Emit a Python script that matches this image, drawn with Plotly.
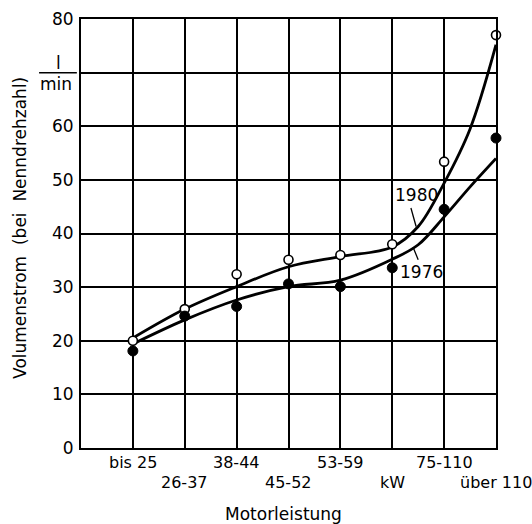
import plotly.graph_objects as go

# --- data ---
categories = ["bis 25", "26-37", "38-44", "45-52", "53-59", "kW", "75-110", "über 110"]
cat_pos = [1, 2, 3, 4, 5, 6, 7, 8]
label_row = [0, 1, 0, 1, 0, 1, 0, 1]   # staggered tick label rows

points_1980 = [20.0, 25.9, 32.4, 35.1, 36.0, 38.0, 53.4, 77.0]
points_1976 = [18.1, 24.6, 26.4, 30.6, 30.1, 33.6, 44.5, 57.8]

# hand-drawn trend curves
trend_x = [1, 2, 3, 4, 5, 6, 6.5, 7, 7.5, 8]
trend_1980 = [20.5, 25.9, 30.1, 33.8, 35.7, 37.5, 41.3, 49.4, 59.5, 75.2]
trend_1976 = [19.4, 23.9, 27.6, 30.1, 31.3, 35.2, 37.9, 43.1, 48.7, 54.0]

y_ticks = [0, 10, 20, 30, 40, 50, 60, 70, 80]
y_ticktext = ["0", "10", "20", "30", "40", "50", "60", "", "80"]

FONT = "DejaVu Sans"
fig = go.Figure()

fig.add_trace(go.Scatter(x=trend_x, y=trend_1980, mode="lines",
                         line=dict(color="black", width=2.8, shape="spline", smoothing=1.0),
                         showlegend=False, hoverinfo="skip"))
fig.add_trace(go.Scatter(x=trend_x, y=trend_1976, mode="lines",
                         line=dict(color="black", width=2.8, shape="spline", smoothing=1.0),
                         showlegend=False, hoverinfo="skip"))
fig.add_trace(go.Scatter(x=cat_pos, y=points_1980, mode="markers", name="1980",
                         marker=dict(symbol="circle", size=9, color="white",
                                     line=dict(color="black", width=1.6)),
                         showlegend=False, cliponaxis=False))
fig.add_trace(go.Scatter(x=cat_pos, y=points_1976, mode="markers", name="1976",
                         marker=dict(symbol="circle", size=10, color="black",
                                     line=dict(color="black", width=1)),
                         showlegend=False, cliponaxis=False))

# staggered category labels
for pos, lab, row in zip(cat_pos, categories, label_row):
    fig.add_annotation(x=pos, xref="x", y=0, yref="paper", text=lab, showarrow=False,
                       yanchor="middle", yshift=-14 - 20 * row,
                       font=dict(family=FONT, size=16, color="black"))

# axis titles
fig.add_annotation(xref="paper", yref="paper", x=0.487, y=0, yshift=-66, yanchor="middle",
                   text="Motorleistung", showarrow=False,
                   font=dict(family=FONT, size=17, color="black"))
fig.add_annotation(xref="paper", yref="paper", x=0, xshift=-61, xanchor="center", y=0.513,
                   text="Volumenstrom  (bei  Nenndrehzahl)", textangle=-90, showarrow=False,
                   font=dict(family=FONT, size=17, color="black"))

# series labels
fig.add_annotation(x=6.46, y=47.2, text="1980", showarrow=False,
                   font=dict(family=FONT, size=17, color="black"))
fig.add_annotation(x=6.57, y=32.9, text="1976", showarrow=False,
                   font=dict(family=FONT, size=17, color="black"))
fig.add_shape(type="line", x0=6.36, y0=44.75, x1=6.46, y1=41.3,
              line=dict(color="black", width=1.3))
fig.add_shape(type="line", x0=6.40, y0=37.5, x1=6.50, y1=35.1,
              line=dict(color="black", width=1.3))

# unit label l/min next to the 70 gridline
fig.add_annotation(xref="paper", yref="y", x=0, xshift=-23, xanchor="center", y=70, text="l",
                   showarrow=False, yanchor="middle", yshift=10,
                   font=dict(family=FONT, size=17, color="black"))
fig.add_annotation(xref="paper", yref="y", x=0, xshift=-25, xanchor="center", y=70, text="min",
                   showarrow=False, yanchor="middle", yshift=-11,
                   font=dict(family=FONT, size=17, color="black"))
fig.add_shape(type="line", xref="paper", yref="y", x0=-0.101, x1=-0.01, y0=70, y1=70,
              line=dict(color="black", width=1.5))

fig.update_layout(
    width=532, height=524,
    margin=dict(l=81, r=36, t=19, b=76, autoexpand=False),
    paper_bgcolor="white", plot_bgcolor="white",
    font=dict(family=FONT, size=16, color="black"),
)
fig.update_xaxes(range=[0, 8], tickvals=cat_pos, showticklabels=False,
                 showgrid=True, gridcolor="black", gridwidth=1.6,
                 showline=True, linecolor="black", linewidth=2, mirror=True,
                 ticks="", zeroline=False, automargin=False)
fig.update_yaxes(range=[0, 80], tickvals=y_ticks, ticktext=y_ticktext,
                 showgrid=True, gridcolor="black", gridwidth=1.6,
                 showline=True, linecolor="black", linewidth=2, mirror=True,
                 ticks="", zeroline=False, automargin=False, ticklabelstandoff=2,
                 tickfont=dict(family=FONT, size=17))

fig.write_html("out.html", config={"displayModeBar": False},
               post_script="document.body.style.margin='0';document.body.style.overflow='hidden';")
